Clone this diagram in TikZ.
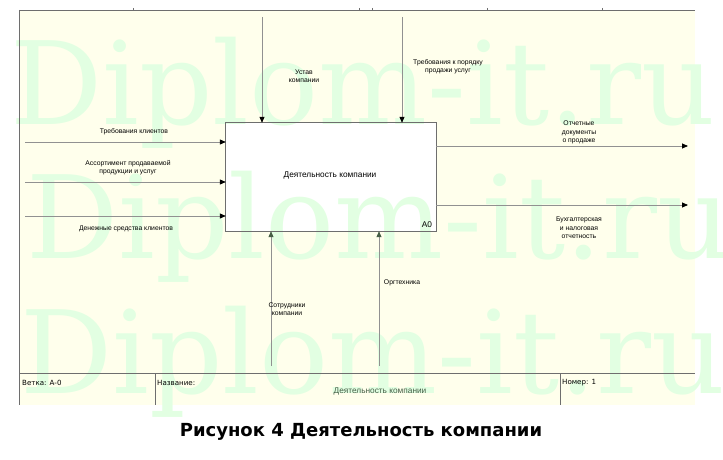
\documentclass[tikz,border=0pt]{standalone}
\usepackage{fontspec}
\setmainfont{Liberation Sans}
\newfontfamily\markfont{DejaVu Serif}
\newfontfamily\verdfont{DejaVu Sans}
\usetikzlibrary{arrows.meta}
\definecolor{sheet}{RGB}{255,255,236}
\definecolor{mark}{RGB}{226,255,226}
\definecolor{wire}{RGB}{145,145,145}
\definecolor{frame}{RGB}{110,110,110}
\definecolor{mech}{RGB}{70,95,70}

\begin{document}
\begin{tikzpicture}[x=1pt,y=-1pt]

    \tikzset{
      Frame/.style = {draw=frame, line width=0.8pt},
      Flow/.style = {draw=wire, line width=0.8pt,
                     -{Triangle[length=6pt,width=5pt,color=black]}},
      ArrowLabel/.style = {align=center, inner sep=0pt,
                     font=\fontsize{6.8}{8.5}\selectfont},
      Watermark/.style = {anchor=base west, inner sep=0pt, text=mark,
                     font=\markfont\fontsize{115}{115}\selectfont},
      FootLabel/.style = {anchor=west, inner sep=0pt,
                     font=\verdfont\fontsize{7.1}{8.5}\selectfont} }
    \useasboundingbox (0,0) rectangle (723,460);
    \fill[sheet] (19,10) rectangle (695,405);
    \node[fill=white, minimum width=210pt, minimum height=108pt] (A0) at (331,177) {};

    \node[Watermark] (w1) at (10,124) {Diplom-it.ru};
    \node[Watermark] (w2) at (26,258) {Diplom-it.ru};
    \node[Watermark] (w3) at (20,393) {Diplom-it.ru};

    \draw[Frame] (A0.south west) rectangle (A0.north east);
    \node[font=\fontsize{8.3}{10}\selectfont] (name) at (330,175) {Деятельность компании};
    \node[font=\fontsize{8.3}{10}\selectfont, inner sep=0pt] (num) at (427,225) {А0};

    \coordinate (i1) at (25,142);
    \coordinate (i2) at (25,182);
    \coordinate (i3) at (25,216);
    \coordinate (c1) at (262,17);
    \coordinate (c2) at (402,17);
    \coordinate (o1) at (688,146);
    \coordinate (o2) at (688,205);
    \coordinate (m1) at (271,366);
    \coordinate (m2) at (379,366);

    \draw[Flow] (i1) -- (i1 -| A0.west);
    \draw[Flow] (i2) -- (i2 -| A0.west);
    \draw[Flow] (i3) -- (i3 -| A0.west);
    \draw[Flow] (c1) -- (c1 |- A0.north);
    \draw[Flow] (c2) -- (c2 |- A0.north);
    \draw[Flow] (o1 -| A0.east) -- (o1);
    \draw[Flow] (o2 -| A0.east) -- (o2);
    \tikzset{
      Flow/.append style = {-{Triangle[length=6pt,width=5pt,color=mech]}} }
    \draw[Flow] (m1) -- (m1 |- A0.south);
    \draw[Flow] (m2) -- (m2 |- A0.south);

    \node[ArrowLabel] (li1) at (134,132) {Требования клиентов};
    \node[ArrowLabel] (li2) at (128,167.5) {Ассортимент продаваемой\\продукции и услуг};
    \node[ArrowLabel] (li3) at (126,229) {Денежные средства клиентов};
    \node[ArrowLabel] (lc1) at (304,76) {Устав\\компании};
    \node[ArrowLabel] (lc2) at (448,66.5) {Требования к порядку\\продажи услуг};
    \node[ArrowLabel] (lo1) at (579,132.5) {Отчетные\\документы\\о продаже};
    \node[ArrowLabel] (lo2) at (579,228) {Бухгалтерская\\и налоговая\\отчетность};
    \node[ArrowLabel] (lm1) at (287,309) {Сотрудники\\компании};
    \node[ArrowLabel] (lm2) at (402,283) {Оргтехника};

    \draw[Frame] (19,10) -- (695,10);
    \draw[Frame] (133,8) -- (133,10);
    \draw[Frame] (359,8) -- (359,10);
    \draw[Frame] (372,8) -- (372,10);
    \draw[Frame] (487,8) -- (487,10);
    \draw[Frame] (602,8) -- (602,10);
    \draw[Frame] (19,10) -- (19,405);
    \draw[Frame] (19,373) -- (695,373);
    \draw[Frame] (155,373) -- (155,405);
    \draw[Frame] (560,373) -- (560,405);

    \node[FootLabel] (branch) at (22,383) {Ветка: А-0};
    \node[FootLabel] (title) at (157,383) {Название:};
    \node[FootLabel] (page) at (562,383) {Номер: 1};
    \node[text=mech, font=\fontsize{8.3}{10}\selectfont] (diag) at (380,391) {Деятельность компании};

    \node[font=\verdfont\bfseries\fontsize{18}{20}\selectfont] (cap) at (361,432) {Рисунок 4 Деятельность компании};
    \end{tikzpicture}
\end{document}
